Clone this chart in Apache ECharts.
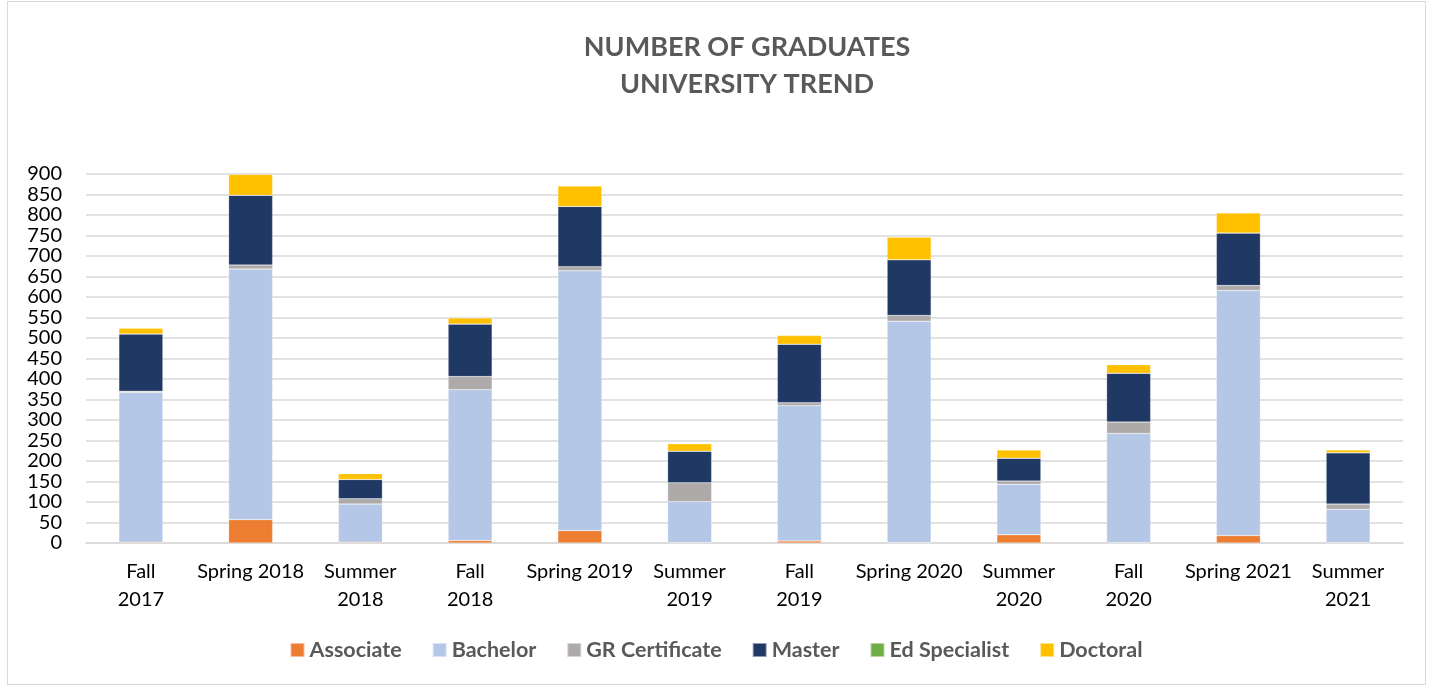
<!DOCTYPE html>
<html>
<head>
<meta charset="utf-8">
<script src="https://cdn.jsdelivr.net/npm/echarts@6/dist/echarts.min.js"></script>
<style>
  html, body { margin: 0; padding: 0; background: #fff; }
  #frame { position: absolute; left: 7px; top: 1px; width: 1417px; height: 682px; border: 1px solid #d9d9d9; }
  #main { position: absolute; left: 0; top: 0; width: 1432px; height: 686px; }
</style>
</head>
<body>
<div id="frame"></div>
<div id="main"></div>
<script>
// 学期
const terms = ['Fall\n2017', 'Spring 2018', 'Summer\n2018', 'Fall\n2018', 'Spring 2019', 'Summer\n2019',
  'Fall\n2019', 'Spring 2020', 'Summer\n2020', 'Fall\n2020', 'Spring 2021', 'Summer\n2021']

// 各学位人数
const associate = [2, 57, 2, 6, 30, 1, 5, 1, 20, 1, 18, 1]
const bachelor = [365, 611, 93, 368, 634, 100, 330, 540, 123, 266, 598, 81]
const grCertificate = [3, 10, 13, 32, 10, 46, 7, 14, 8, 28, 12, 13]
const master = [140, 170, 47, 128, 147, 77, 143, 136, 56, 119, 128, 125]
const edSpecialist = [0, 0, 0, 0, 0, 0, 0, 0, 0, 0, 0, 0]
const doctoral = [14, 51, 14, 15, 50, 18, 21, 55, 20, 21, 49, 7]

const yTicks = [0, 50, 100, 150, 200, 250, 300, 350, 400, 450, 500, 550, 600, 650, 700, 750, 800, 850, 900]

const colors = ['#ed7d31', '#b4c7e7', '#aeaaaa', '#203864', '#70ad47', '#ffc000']
const font = 'Lato, "Open Sans", sans-serif'

var chart = echarts.init(document.getElementById('main'))

function makeSeries(name, data) {
  return {
    name: name,
    type: 'bar',
    stack: 'total',
    barWidth: 44,
    data: data,
    itemStyle: {
      borderColor: 'rgba(255,255,255,0.5)',
      borderWidth: 0.5
    }
  }
}

var option = {
  animation: false,
  color: colors,
  title: {
    text: 'NUMBER OF GRADUATES\nUNIVERSITY TREND',
    left: 742,
    top: 24,
    textAlign: 'center',
    textStyle: {
      fontFamily: font,
      fontSize: 27,
      fontWeight: 'bold',
      color: '#595959',
      lineHeight: 37
    }
  },
  legend: {
    bottom: 20,
    left: 'center',
    itemWidth: 14,
    itemHeight: 14,
    itemGap: 30,
    icon: 'rect',
    textStyle: {
      fontFamily: font,
      fontSize: 21.5,
      fontWeight: 'bold',
      color: '#595959'
    },
    data: ['Associate', 'Bachelor', 'GR Certificate', 'Master', 'Ed Specialist', 'Doctoral']
  },
  grid: {
    left: 86,
    right: 29,
    top: 174,
    bottom: 143,
    containLabel: false
  },
  xAxis: {
    type: 'category',
    data: terms,
    axisTick: { show: false },
    axisLine: { lineStyle: { color: '#d9d9d9', width: 1.5 } },
    axisLabel: {
      interval: 0,
      margin: 15,
      fontFamily: font,
      fontSize: 20,
      lineHeight: 28,
      color: '#000'
    }
  },
  yAxis: {
    type: 'value',
    min: yTicks[0],
    max: yTicks[yTicks.length - 1],
    interval: 50,
    axisLine: { show: false },
    axisTick: { show: false },
    splitLine: { lineStyle: { color: '#d9d9d9', width: 1.5 } },
    axisLabel: {
      margin: 24,
      fontFamily: font,
      fontSize: 20,
      color: '#000'
    }
  },
  series: [
    makeSeries('Associate', associate),
    makeSeries('Bachelor', bachelor),
    makeSeries('GR Certificate', grCertificate),
    makeSeries('Master', master),
    makeSeries('Ed Specialist', edSpecialist),
    makeSeries('Doctoral', doctoral)
  ]
}
chart.setOption(option)
</script>
</body>
</html>
